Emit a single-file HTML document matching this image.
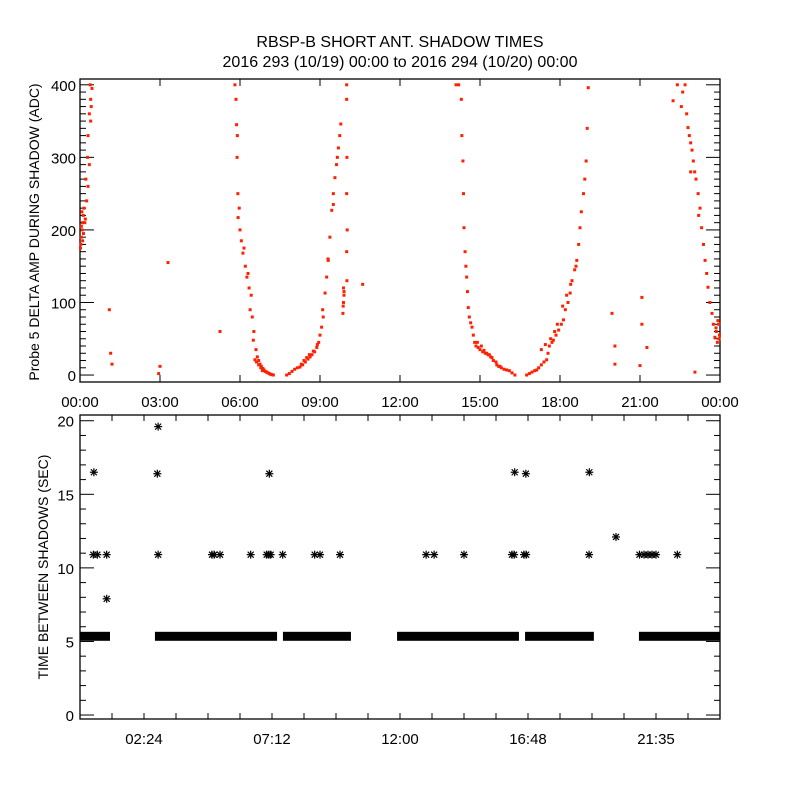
<!DOCTYPE html>
<html><head><meta charset="utf-8"><style>
body{margin:0;background:#fff;}
svg text{font-family:"Liberation Sans",sans-serif;fill:#000;}
</style></head><body>
<svg id="chart" width="800" height="800" xmlns="http://www.w3.org/2000/svg">
<rect width="800" height="800" fill="#fff"/>
<text x="400" y="47" font-size="16" text-anchor="middle">RBSP-B SHORT ANT. SHADOW TIMES</text>
<text x="400" y="67" font-size="16" text-anchor="middle">2016 293 (10/19) 00:00 to 2016 294 (10/20) 00:00</text>
<g id="top"></g><g id="bot"></g>
</svg>
<script>
// ---- top panel data (hours, ADC) ----
const topHours = [0.02,0.05,0.08,0.1,0.12,0.15,0.05,0.1,0.2,0.25,0.3,0.35,0.3,0.35,0.4,0.38,0.4,0.28,0.45,0.42,0.03,0.07,0.13,0.18,0.22,
1.1,1.15,1.2,3.0,2.95,3.3,5.25,10.6,19.95,20.06,20.06,21.07,21.07,21.26,21.0,23.06,
5.81,5.85,5.87,5.89,5.9,5.92,5.93,5.97,6.0,6.05,6.11,6.15,6.2,6.26,6.3,6.34,6.38,6.42,6.46,6.5,6.52,6.56,6.6,6.65,6.7,6.75,6.8,6.86,6.9,6.95,7.0,7.05,7.1,7.15,7.2,7.25,6.62,6.7,6.78,6.84,
7.75,7.85,7.95,8.05,8.15,8.25,8.35,8.45,8.55,8.63,8.7,8.8,8.88,8.95,9.0,9.06,9.12,9.19,9.25,9.31,9.37,9.44,9.5,9.56,9.62,9.69,9.74,9.78,8.3,8.4,8.5,8.6,8.75,8.9,9.1,9.3,9.5,9.65,
9.86,9.88,9.9,9.88,9.87,9.9,10.0,10.0,10.01,10.0,10.02,10.0,10.01,
14.1,14.2,14.3,14.32,14.36,14.38,14.4,14.44,14.47,14.5,14.53,14.56,14.6,14.65,14.7,14.75,14.8,14.85,14.93,15.0,15.1,15.2,15.25,15.3,15.4,15.5,15.63,15.7,15.8,15.9,16.0,16.1,16.2,16.31,14.9,15.05,15.15,15.35,15.45,15.6,15.75,
16.75,16.85,16.95,17.05,17.13,17.2,17.3,17.4,17.5,17.55,17.6,17.7,17.75,17.85,17.95,18.05,18.13,18.2,18.3,18.38,18.45,18.55,18.63,18.7,18.75,18.8,18.88,18.93,18.98,19.02,19.06,17.3,17.45,17.65,17.8,17.9,18.1,18.25,18.4,18.6,
22.24,22.4,22.55,22.69,22.75,22.8,22.85,22.9,22.95,23.0,23.05,23.1,23.18,23.25,23.31,23.38,23.44,23.5,23.55,23.62,23.7,23.75,23.81,23.86,23.9,23.95,23.98,23.85,23.92,23.96,22.6,22.9,23.2];
const topValues = [175,190,200,210,220,230,205,185,215,240,260,290,330,360,380,400,350,300,395,370,180,225,195,210,270,
90,30,15,12,2,155,60,125,85,40,15,107,70,38,13,4,
400,380,345,300,330,250,217,230,200,185,168,175,150,135,140,120,90,110,80,48,60,21,35,25,20,15,12,9,7,5,4,3,2,1,0.5,0,18,14,10,6,
0,2,5,8,10,11,14,18,22,25,28,32,38,45,55,66,80,113,135,158,190,227,250,272,290,313,330,346,15,20,24,28,33,42,90,160,235,300,
85,100,110,120,95,115,400,380,300,250,200,170,130,
400,400,380,330,295,250,203,170,150,135,115,93,80,72,66,55,45,40,38,35,32,30,30,28,25,20,14,12,10,8,7,6,3,0,45,40,34,28,24,18,12,
0,2,4,6,7,10,14,18,21,30,40,45,48,55,62,70,76,90,100,113,130,145,158,180,203,225,250,270,295,340,396,35,42,50,60,70,95,110,125,150,
378,400,370,400,360,341,330,320,310,295,280,270,250,230,203,180,158,140,121,100,85,70,52,60,45,70,55,65,75,50,390,280,220];
// ---- bottom panel data ----
const bandStart = [0,2.81,7.61,11.89,16.69,20.96];
const bandEnd = [1.125,7.39,10.16,16.46,19.27,24];
const bandValue = [5.35,5.35,5.35,5.35,5.35,5.35];
const starHours = [0.5,0.65,1.0,2.93,4.95,5.03,5.25,6.4,7.0,7.08,7.15,7.6,8.8,9.0,9.75,12.98,13.28,14.4,16.2,16.28,16.65,16.73,19.09,20.98,21.15,21.3,21.45,21.6,22.4,0.52,2.9,7.1,16.3,16.72,19.1,2.93,1.0,20.1];
const starValues = [10.9,10.9,10.9,10.9,10.9,10.9,10.9,10.9,10.9,10.9,10.9,10.9,10.9,10.9,10.9,10.9,10.9,10.9,10.9,10.9,10.9,10.9,10.9,10.9,10.9,10.9,10.9,10.9,10.9,16.5,16.4,16.4,16.5,16.4,16.5,19.6,7.9,12.1];
const topXTicks = ["00:00","03:00","06:00","09:00","12:00","15:00","18:00","21:00","00:00"];
const topYTicks = [0,100,200,300,400];
const botXTicks = ["02:24","07:12","12:00","16:48","21:35"];
const botYTicks = [0,5,10,15,20];

const NS="http://www.w3.org/2000/svg";
function mk(parent,tag,attrs){const e=document.createElementNS(NS,tag);for(const k in attrs)e.setAttribute(k,attrs[k]);parent.appendChild(e);return e;}
const L=80,R=720;
const xs=h=>L+(h/24)*(R-L);
const T0=79,T1=382,tyMin=-9.6,tyMax=408;
const ty=v=>T1-(v-tyMin)/(tyMax-tyMin)*(T1-T0);
const B0=415,B1=719,byMin=-0.27,byMax=20.39;
const by=v=>B1-(v-byMin)/(byMax-byMin)*(B1-B0);

const gt=document.getElementById('top'),gb=document.getElementById('bot');
function frame(g,y0,y1,name){const r=mk(g,'rect',{x:L,y:y0,width:R-L,height:y1-y0,fill:'none',stroke:'#000','stroke-width':1.3});

}
frame(gt,T0,T1,'top-plot-frame');frame(gb,B0,B1,'bottom-plot-frame');

for(let v=0;v<=400;v+=10){const y=ty(v);const len=(v%100===0)?14:6;
 mk(gt,'line',{x1:L,x2:L+len,y1:y,y2:y,stroke:'#000'});mk(gt,'line',{x1:R,x2:R-len,y1:y,y2:y,stroke:'#000'});}
topYTicks.forEach(v=>{const t=mk(gt,'text',{x:L-4,y:ty(v)+6,'font-size':15,'text-anchor':'end'});t.textContent=v;

});
topXTicks.forEach((s,i)=>{const x=xs(i*3);mk(gt,'line',{x1:x,x2:x,y1:T1,y2:T1-7,stroke:'#000'});mk(gt,'line',{x1:x,x2:x,y1:T0,y2:T0+7,stroke:'#000'});
const t=mk(gt,'text',{x:x,y:407,'font-size':15,'text-anchor':'middle'});t.textContent=s;

});
const yt=mk(gt,'text',{x:0,y:0,'font-size':14,'text-anchor':'middle',transform:'translate(39,232) rotate(-90)'});yt.textContent='Probe 5 DELTA AMP DURING SHADOW (ADC)';


topHours.forEach((h,i)=>{const v=topValues[i];if(v>tyMax)return;
 const p=mk(gt,'rect',{x:xs(h)-1.5,y:ty(v)-1.5,width:3,height:3,fill:'#ff2000'});
 
 });

for(let v=0;v<=20;v+=1){const y=by(v);const len=(v%5===0)?14:6;
 mk(gb,'line',{x1:L,x2:L+len,y1:y,y2:y,stroke:'#000'});mk(gb,'line',{x1:R,x2:R-len,y1:y,y2:y,stroke:'#000'});}
botYTicks.forEach(v=>{const t=mk(gb,'text',{x:L-6,y:by(v)+6,'font-size':15,'text-anchor':'end'});t.textContent=v;

});
for(let i=1;i<20;i++){const x=xs(i*1.2);mk(gb,'line',{x1:x,x2:x,y1:B1,y2:B1-6,stroke:'#000'});mk(gb,'line',{x1:x,x2:x,y1:B0,y2:B0+6,stroke:'#000'});}
botXTicks.forEach((s,i)=>{const x=xs(2.4+i*4.8);const t=mk(gb,'text',{x:x,y:744,'font-size':15,'text-anchor':'middle'});t.textContent=s;

});
const yb=mk(gb,'text',{x:0,y:0,'font-size':14,'text-anchor':'middle',transform:'translate(48,567) rotate(-90)'});yb.textContent='TIME BETWEEN SHADOWS (SEC)';


bandStart.forEach((s,i)=>{const x0=xs(s),x1=xs(bandEnd[i]);const y=by(bandValue[i]);
 const r=mk(gb,'rect',{x:x0,y:y-4.5,width:x1-x0,height:9,fill:'#000'});
 
 });
function star(x,y){const g=mk(gb,'g',{stroke:'#000','stroke-width':1.2});
 mk(g,'line',{x1:x-4,x2:x+4,y1:y,y2:y});mk(g,'line',{x1:x,x2:x,y1:y-4,y2:y+4});
 mk(g,'line',{x1:x-3,x2:x+3,y1:y-3,y2:y+3});mk(g,'line',{x1:x-3,x2:x+3,y1:y+3,y2:y-3});return g;}
starHours.forEach((h,i)=>{const s=star(xs(h),by(starValues[i]));
 
 });
</script>
</body></html>
